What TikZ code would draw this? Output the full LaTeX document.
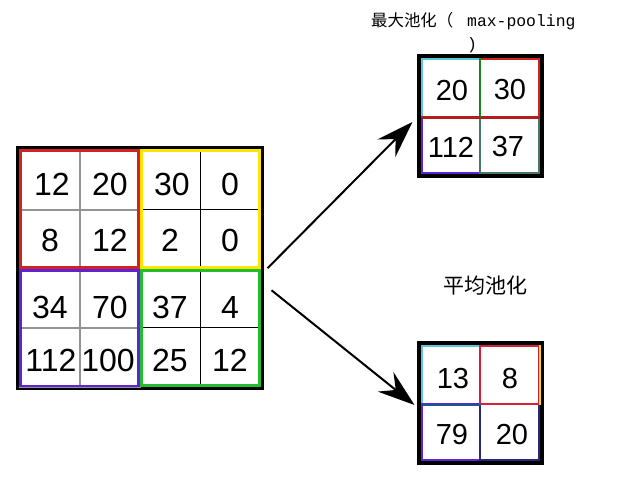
\documentclass[tikz,border=0pt]{standalone}
\usepackage{fontspec}
\setmainfont{Liberation Sans}
\newfontfamily\cjk{Noto Sans CJK SC}
\newfontfamily\monof{Liberation Mono}
\usetikzlibrary{arrows.meta}
\definecolor{qred}{RGB}{210,35,35}
\definecolor{qyellow}{RGB}{255,228,0}
\definecolor{qpurple}{RGB}{95,35,215}
\definecolor{qgreen}{RGB}{35,190,45}
\definecolor{qcyan}{RGB}{90,200,210}
\definecolor{qteal}{RGB}{70,120,100}
\definecolor{qnavy}{RGB}{40,40,120}
\begin{document}
\begin{tikzpicture}[x=1pt,y=-1pt,
  cell/.style={rectangle,inner sep=0pt,minimum width=60pt,minimum height=59pt},
  cellL/.style={cell,draw=gray!85,line width=1.3pt},
  cellR/.style={cell,draw=black,line width=1pt},
  qframe/.style={rectangle,inner sep=0pt,line width=2.6pt},
  bigframe/.style={rectangle,inner sep=0pt,draw=black,line width=3pt},
  smallframe/.style={rectangle,inner sep=0pt,draw=black,line width=5pt},
  scell/.style={rectangle,inner sep=0pt,line width=1.4pt},
  bignum/.style={inner sep=0pt,font=\fontsize{32}{32}\selectfont},
  smallnum/.style={inner sep=0pt,font=\fontsize{29}{29}\selectfont},
  arr/.style={line width=2pt,-{Stealth[length=37pt,width=25pt,inset=13pt]}}
]
\useasboundingbox (0,0) rectangle (633,481);
\fill[white] (0,0) rectangle (633,481);

% ---- big 4x4 grid
\node[bigframe,minimum width=245pt,minimum height=241.5pt] (big) at (140,268.25) {};
\node[cellL] (c11) at (50,180.5) {};
\node[cellL] (c12) at (110,180.5) {};
\node[cellR] (c13) at (170,180.5) {};
\node[cellR] (c14) at (230,180.5) {};
\node[cellL] (c21) at (50,239.5) {};
\node[cellL] (c22) at (110,239.5) {};
\node[cellR] (c23) at (170,239.5) {};
\node[cellR] (c24) at (230,239.5) {};
\node[cellL] (c31) at (50,298.5) {};
\node[cellL] (c32) at (110,298.5) {};
\node[cellR] (c33) at (170,298.5) {};
\node[cellR] (c34) at (230,298.5) {};
\node[cellL] (c41) at (50,357.5) {};
\node[cellL] (c42) at (110,357.5) {};
\node[cellR] (c43) at (170,357.5) {};
\node[cellR] (c44) at (230,357.5) {};

\node[qframe,draw=qred,minimum width=118pt,minimum height=117pt] (q1) at (79.5,209) {};
\node[qframe,draw=qyellow,minimum width=118pt,minimum height=117pt] (q2) at (200.5,209) {};
\node[qframe,draw=qpurple,minimum width=118pt,minimum height=115.5pt] (q3) at (79.5,328.25) {};
\node[qframe,draw=qgreen,minimum width=118pt,minimum height=115pt] (q4) at (200.5,328) {};

\node[bignum] (n11) at (52,184) {12};
\node[bignum] (n12) at (110,184) {20};
\node[bignum] (n13) at (172,184) {30};
\node[bignum] (n14) at (230,184) {0};
\node[bignum] (n21) at (50,240) {8};
\node[bignum] (n22) at (110,240) {12};
\node[bignum] (n23) at (170,240) {2};
\node[bignum] (n24) at (230,240) {0};
\node[bignum] (n31) at (50,307) {34};
\node[bignum] (n32) at (110,307) {70};
\node[bignum] (n33) at (170,307) {37};
\node[bignum] (n34) at (230,307) {4};
\node[bignum] (n41) at (51,360.5) {112};
\node[bignum] (n42) at (108,360.5) {100};
\node[bignum] (n43) at (170,360.5) {25};
\node[bignum] (n44) at (230,360.5) {12};

% ---- max pooling result
\node[smallframe,minimum width=122pt,minimum height=119pt] (maxg) at (480.5,116) {};
\node[scell,draw=qcyan,minimum width=58pt,minimum height=58pt] (m11) at (451,88) {};
\node[scell,draw=qpurple,minimum width=58pt,minimum height=56pt] (m21) at (451,145) {};
\node[scell,draw=qteal,minimum width=59pt,minimum height=56pt] (m22) at (509.5,145) {};
\node[scell,draw=qred,minimum width=59pt,minimum height=58pt] (m12) at (509.5,88) {};
\draw[qred!85!black,line width=3pt] (m11.south west) -- (m12.south east);
\draw[qgreen!70!black,line width=1.2pt] (m11.north east) -- (m11.south east);
\node[smallnum] (mn11) at (452,91) {20};
\node[smallnum] (mn12) at (510,90) {30};
\node[smallnum] (mn21) at (451,147) {112};
\node[smallnum] (mn22) at (508,147) {37};

% ---- average pooling result
\node[smallframe,minimum width=122pt,minimum height=119pt] (avgg) at (480.5,403) {};
\node[scell,draw=qcyan,minimum width=58pt,minimum height=58pt] (a11) at (451,375) {};
\node[scell,draw=qpurple,minimum width=58pt,minimum height=56pt] (a21) at (451,432) {};
\node[scell,draw=qnavy,minimum width=59pt,minimum height=56pt] (a22) at (509.5,432) {};
\node[scell,draw=qred!90!magenta,minimum width=59pt,minimum height=58pt] (a12) at (509.5,375) {};
\draw[qyellow,line width=1.6pt] (a12.north east) -- (a12.south east);
\draw[qnavy!80!cyan,line width=2pt] (a11.south west) -- (a11.south east);
\node[smallnum] (an11) at (453,378.5) {13};
\node[smallnum] (an12) at (510,378.5) {8};
\node[smallnum] (an21) at (452,435) {79};
\node[smallnum] (an22) at (512,435) {20};

% ---- labels
\node[anchor=west,inner sep=0pt,font=\fontsize{16.4}{16.4}\selectfont] (tmax) at (371,21)
  {{\cjk 最大池化（}\hspace{14pt}{\monof max-pooling}};
\node[inner sep=0pt,font=\monof\fontsize{16.4}{16.4}\selectfont] (tmax2) at (472,45) {)};
\node[inner sep=0pt,font=\cjk\fontsize{21}{21}\selectfont] (tavg) at (485,286) {平均池化};

% ---- arrows
\draw[arr] ([shift={(3.5,0)}]big.east) -- ([shift={(-4.5,6)}]maxg.west);
\draw[arr] ([shift={(7.5,22)}]big.east) -- ([shift={(-2.5,2)}]avgg.west);
\end{tikzpicture}
\end{document}
